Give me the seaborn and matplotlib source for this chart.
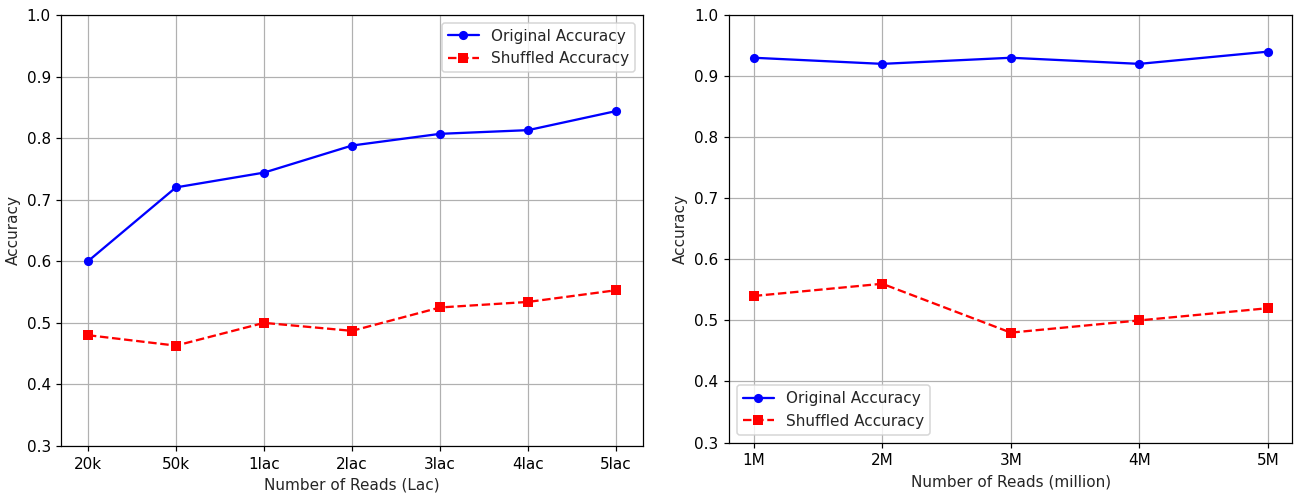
import matplotlib
matplotlib.use("Agg")
import matplotlib.pyplot as plt
import seaborn as sns
import pandas as pd

# Accuracy vs. number of reads (lakh scale)
lac_labels = ["20k", "50k", "1lac", "2lac", "3lac", "4lac", "5lac"]
lac_original = [0.600, 0.720, 0.744, 0.788, 0.807, 0.813, 0.844]
lac_shuffled = [0.480, 0.463, 0.500, 0.487, 0.525, 0.534, 0.553]

# Accuracy vs. number of reads (million scale)
mil_labels = ["1M", "2M", "3M", "4M", "5M"]
mil_original = [0.93, 0.92, 0.93, 0.92, 0.94]
mil_shuffled = [0.54, 0.56, 0.48, 0.50, 0.52]

sns.set_style("ticks")
plt.rcParams["font.family"] = ["DejaVu Sans"]

DPI = 110
fig = plt.figure(figsize=(1294 / DPI, 495 / DPI), dpi=DPI)
ax1 = fig.add_axes([0.0475, 0.099, 0.4491, 0.8707])
ax2 = fig.add_axes([0.5636, 0.1059, 0.4351, 0.8638])


def draw(ax, labels, original, shuffled, xlabel, legend_loc, pad):
    df = pd.DataFrame({"pos": range(len(labels)),
                       "orig": original, "shuf": shuffled})
    sns.lineplot(data=df, x="pos", y="orig", ax=ax, color="blue",
                 marker="o", markersize=6, markeredgewidth=0,
                 linestyle="-", linewidth=1.5, label="Original Accuracy")
    sns.lineplot(data=df, x="pos", y="shuf", ax=ax, color="red",
                 marker="s", markersize=6, markeredgewidth=0,
                 linestyle="--", linewidth=1.5, label="Shuffled Accuracy")
    ax.set_xticks(range(len(labels)))
    ax.set_xticklabels(labels)
    ax.set_ylim(0.3, 1.0)
    ax.set_xlim(-pad, len(labels) - 1 + pad)
    ax.set_xlabel(xlabel, fontsize=10)
    ax.set_ylabel("Accuracy", fontsize=10)
    ax.grid(True, color="#b0b0b0", linewidth=0.8)
    for s in ax.spines.values():
        s.set_visible(True)
        s.set_color("black")
        s.set_linewidth(0.8)
    ax.tick_params(direction="out", length=3.5, width=0.8, colors="black",
                   labelsize=10)
    ax.legend(loc=legend_loc, fontsize=10, frameon=True)


draw(ax1, lac_labels, lac_original, lac_shuffled,
     "Number of Reads (Lac)", "upper right", 0.3)
draw(ax2, mil_labels, mil_original, mil_shuffled,
     "Number of Reads (million)", "lower left", 0.19)

fig.savefig("out.png", dpi=DPI)
